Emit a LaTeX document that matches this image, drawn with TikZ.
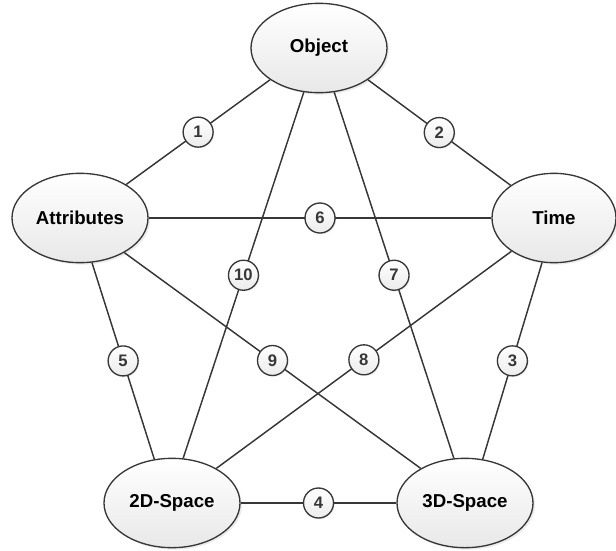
\documentclass[tikz,border=0pt]{standalone}
\usepackage{fontspec}
\setmainfont{Liberation Sans}
\usetikzlibrary{shapes.geometric,shadows}
\definecolor{linegray}{RGB}{55,55,55}
\tikzset{
    topic/.style={ellipse,draw=linegray,line width=1pt,top color=white,bottom color=gray!18,
        minimum width=102pt,minimum height=67pt,inner sep=0pt,
        font=\fontsize{14}{16}\selectfont\bfseries,
        drop shadow={opacity=0.15,shadow xshift=1.5pt,shadow yshift=-1.5pt}},
    num/.style={circle,draw=linegray,line width=1pt,top color=white,bottom color=gray!15,
        minimum size=22.5pt,inner sep=0pt,font=\fontsize{12.5}{14}\selectfont\bfseries,
        drop shadow={opacity=0.12,shadow xshift=1pt,shadow yshift=-1pt}},
    link/.style={linegray,line width=1.1pt}
}
\begin{document}
\begin{tikzpicture}[x=0.75pt,y=-0.75pt]
    \useasboundingbox (0,0) rectangle (616,550);
    \node[topic] (obj) at (319,48) {Object};
    \node[topic] (attr) at (80,218) {Attributes};
    \node[topic,minimum width=93pt] (time) at (554,218) {Time};
    \node[topic] (sp2) at (172,503) {2D-Space};
    \node[topic] (sp3) at (465,503) {3D-Space};
    \draw[link] (attr.36) -- node[num]{1} (obj.213);
    \draw[link] (obj.327) -- node[num]{2} (time.143);
    \draw[link] (time.255) -- node[num]{3} (sp3.68);
    \draw[link] (sp2.0) -- node[num]{4} (sp3.180);
    \draw[link] (attr.285) -- node[num]{5} (sp2.112);
    \draw[link] (attr.0) -- node[num]{6} (time.180);
    \draw[link] (obj.289) -- node[num]{7} (sp3.104);
    \draw[link] (time.218) -- node[num]{8} (sp2.38);
    \draw[link] (attr.322) -- node[num]{9} (sp3.142);
    \draw[link] (obj.251) -- node[num]{10} (sp2.76);
\end{tikzpicture}
\end{document}
